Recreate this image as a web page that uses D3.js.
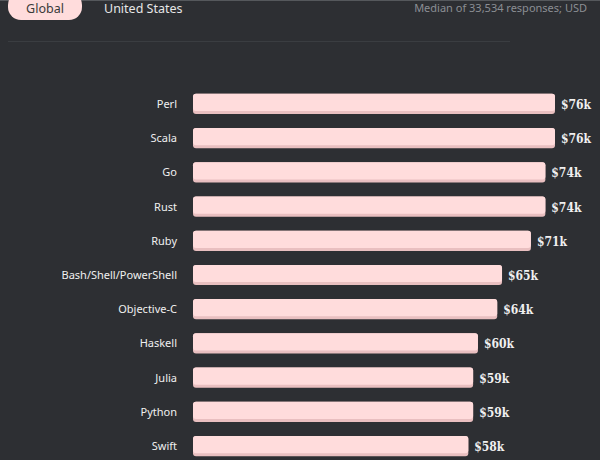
<!DOCTYPE html>
<html><head><meta charset="utf-8">
<script src="https://cdn.jsdelivr.net/npm/d3@7"></script>
<style>body{margin:0;background:#2d2f33}svg{display:block}</style>
</head><body><svg id="c" width="600" height="460"></svg>
<script>
const languages=["Perl","Scala","Go","Rust","Ruby","Bash/Shell/PowerShell","Objective-C","Haskell","Julia","Python","Swift"];
const salaries=[76,76,74,74,71,65,64,60,59,59,58];
const tabs=["Global","United States"];
const note="Median of 33,534 responses; USD";

const svg=d3.select("#c");
svg.append("rect").attr("width",600).attr("height",460).attr("fill","#2d2f33");
svg.append("line").attr("x1",0).attr("x2",600).attr("y1",0.5).attr("y2",0.5).attr("stroke","#55585c");
svg.append("rect").attr("x",8).attr("y",-8).attr("width",74).attr("height",28).attr("rx",13).attr("fill","#ffdcdc");
svg.append("text").attr("x",45).attr("y",13).attr("text-anchor","middle").attr("font-family","Noto Sans").attr("font-size",12.5).attr("fill","#3a3a3a").text(tabs[0]);
svg.append("text").attr("x",104).attr("y",13).attr("font-family","Noto Sans").attr("font-size",12.5).attr("fill","#e6e6e6").text(tabs[1]);
svg.append("text").attr("x",587).attr("y",12).attr("text-anchor","end").attr("font-family","Noto Sans").attr("font-size",11).attr("fill","#8b8e93").text(note);
svg.append("line").attr("x1",8).attr("x2",510).attr("y1",41.5).attr("y2",41.5).attr("stroke","#3a3d41");

const x=d3.scaleLinear().domain([0,76]).range([189,555]);
const y=d3.scaleBand().domain(languages).range([87,463]).paddingInner(0.41).paddingOuter(0.2);
const g=svg.append("g");
languages.forEach((l,i)=>{
  const v=salaries[i], y0=y(l), h=y.bandwidth();
  g.append("rect").attr("x",193).attr("y",y0).attr("width",x(v)-193).attr("height",h).attr("rx",3).attr("fill","#e9bfc0");
  g.append("rect").attr("x",193).attr("y",y0).attr("width",x(v)-193).attr("height",h-3).attr("rx",3).attr("fill","#ffdcdc");
  g.append("text").attr("x",177).attr("y",y0+h/2+4).attr("text-anchor","end").attr("font-family","Noto Sans").attr("font-size",11).attr("fill","#f0f0f0").text(l);
  g.append("text").attr("x",x(v)+6).attr("y",y0+h/2+5).attr("font-family","DejaVu Serif Condensed, DejaVu Serif").attr("font-weight","bold").attr("font-size",12).attr("fill","#f0f0f0").text("$"+v+"k");
});
</script></body></html>
